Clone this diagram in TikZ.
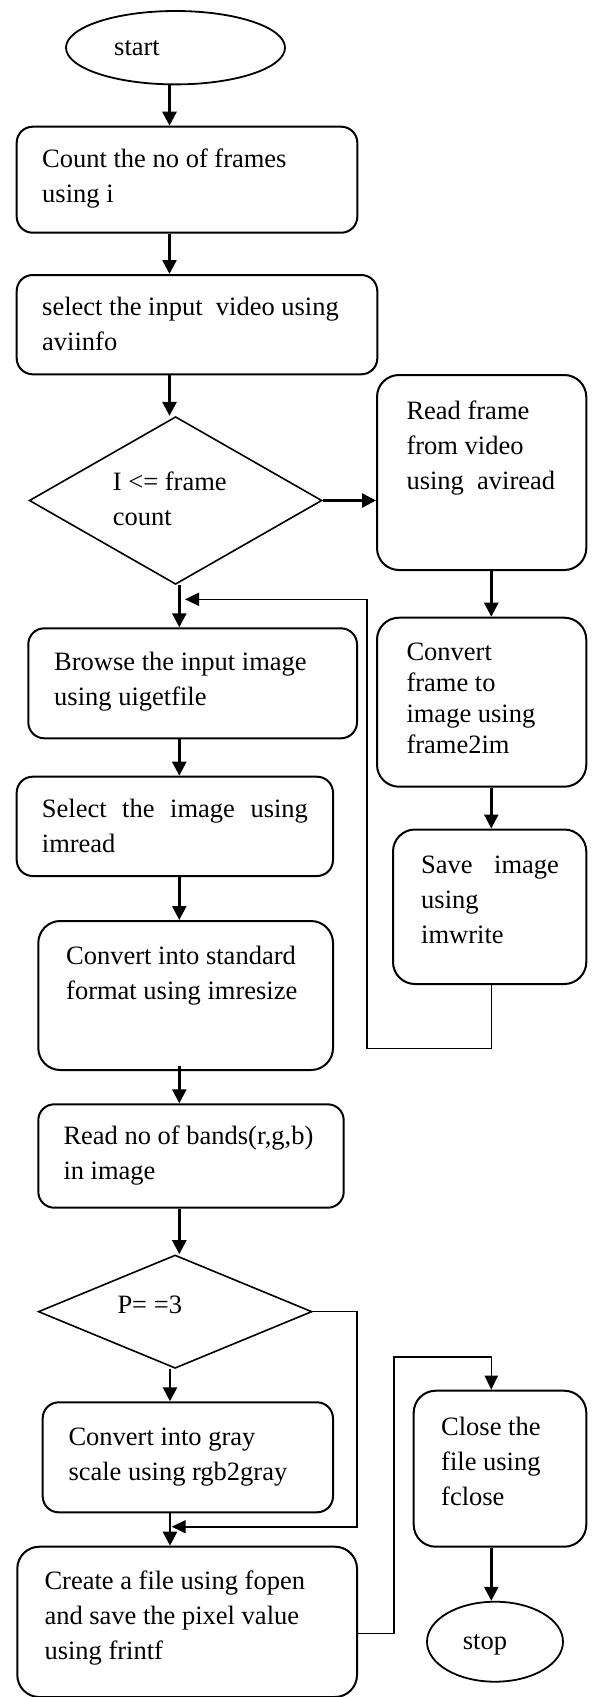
\documentclass[tikz,border=0pt]{standalone}
\usepackage{fontspec}
\setmainfont{Liberation Serif}
\usetikzlibrary{shapes.geometric,arrows.meta,calc}
\newcommand\mystrut{\rule{0pt}{23pt}}
\begin{document}
\begin{tikzpicture}[x=1pt,y=-1pt,
  box/.style={draw, line width=2pt, rounded corners=16pt, inner sep=0pt},
  rbox/.style={box, rounded corners=22pt},
  dia/.style={draw, diamond, line width=1.6pt, inner sep=0pt},
  ell/.style={draw, ellipse, line width=1.8pt, inner sep=0pt},
  txt/.style={anchor=north west, inner sep=0pt, align=left, font=\fontsize{26.5}{35}\selectfont},
  arr/.style={line width=2.6pt, -{Triangle[length=14pt,width=14pt]}},
  larr/.style={line width=1.6pt, -{Triangle[length=14pt,width=13pt]}}
]
\useasboundingbox (0,0) rectangle (593,1697);

% shapes
\node[ell, minimum width=219pt, minimum height=73.4pt] (start) at (175.5,47.7) {};
\node[box, minimum width=340.6pt, minimum height=106pt] (box1) at (187,179.7) {};
\node[box, minimum width=360.6pt, minimum height=99.3pt] (box2) at (197,324.65) {};
\node[dia, minimum width=292.7pt, minimum height=167.7pt] (dia1) at (175.6,500.5) {};
\node[rbox, minimum width=209.3pt, minimum height=195pt] (read) at (481.65,472.5) {};
\node[box, minimum width=328.7pt, minimum height=110pt] (browse) at (192.65,683.3) {};
\node[box, minimum width=316.3pt, minimum height=99.3pt] (select) at (174.85,826.35) {};
\node[rbox, minimum width=294.7pt, minimum height=149pt] (convstd) at (185.65,995.5) {};
\node[box, minimum width=305.4pt, minimum height=103.4pt] (bands) at (191,1156) {};
\node[dia, minimum width=273.7pt, minimum height=113.3pt] (diaP) at (175.15,1311.65) {};
\node[box, minimum width=290.3pt, minimum height=110pt] (gray) at (187.85,1457.3) {};
\node[rbox, minimum width=339.7pt, minimum height=150.3pt] (create) at (187.15,1621.85) {};
\node[rbox, minimum width=209.3pt, minimum height=169pt] (cframe) at (481.65,702.2) {};
\node[rbox, minimum width=193.3pt, minimum height=154.5pt] (save) at (489.65,906.75) {};
\node[rbox, minimum width=172.6pt, minimum height=156pt] (close) at (500,1468.7) {};
\node[ell, minimum width=136pt, minimum height=80pt] (stop) at (495,1641.7) {};

% texts
\node[txt] (tstart) at (114,32.5) {\mystrut start};
\node[txt] (tbox1) at (42,144.3) {\mystrut Count the no of frames\\using i};
\node[txt] (tbox2) at (42,292) {\mystrut select the input~ video using\\aviinfo};
\node[txt] (tdia1) at (112.7,467.7) {\mystrut I <= frame\\count};
\node[txt] (tread) at (406.3,396.7) {\mystrut Read frame\\from video\\using~ aviread};
\node[txt] (tbrowse) at (54,647.7) {\mystrut Browse the input image\\using uigetfile};
\node[txt] (tselect) at (41.7,794.3) {\mystrut\makebox[266pt][s]{Select the image using}\\imread};
\node[txt] (tconvstd) at (66,941) {\mystrut Convert into standard\\format using imresize};
\node[txt] (tbands) at (63.3,1121) {\mystrut Read no of bands(r,g,b)\\in image};
\node[txt] (tdiaP) at (117.3,1290) {\mystrut P= =3};
\node[txt] (tgray) at (68.3,1422.7) {\mystrut Convert into gray\\scale using rgb2gray};
\node[txt] (tcreate) at (44.3,1566.7) {\mystrut Create a file using fopen\\and save the pixel value\\using frintf};
\node[txt, font=\fontsize{26.5}{31}\selectfont] (tcframe) at (406.3,637.7) {\mystrut Convert\\frame to\\image using\\frame2im};
\node[txt] (tsave) at (421,850) {\mystrut\makebox[137.7pt][s]{Save image}\\using\\imwrite};
\node[txt] (tclose) at (441,1412) {\mystrut Close the\\file using\\fclose};
\node[txt] (tstop) at (462.7,1626) {\mystrut stop};

% columns
\coordinate (colA) at (169.5,0);
\coordinate (colB) at (179.3,0);
\coordinate (colP) at (170,0);
\coordinate (colR) at (491.3,0);

% connectors
\draw[arr] (start.south -| colA) -- (box1.north -| colA);
\draw[arr] (box1.south -| colA) -- (box2.north -| colA);
\draw[arr] (box2.south -| colA) -- (dia1.north -| colA);
\draw[arr] (dia1.east) -- (read.west |- dia1.east);
\draw[arr] (dia1.south -| colB) -- (browse.north -| colB);
\draw[arr] (browse.south -| colB) -- (select.north -| colB);
\draw[arr] (select.south -| colB) -- (convstd.north -| colB);
\draw[arr] ($(convstd.south -| colB)+(0,-5)$) -- (bands.north -| colB);
\draw[arr] (bands.south -| colB) -- (diaP.north -| colB);
\draw[arr] (diaP.south -| colP) -- (gray.north -| colP);
\draw[arr] (gray.south -| colP) -- (create.north -| colP);
\draw[arr] (read.south -| colR) -- (cframe.north -| colR);
\draw[arr] (cframe.south -| colR) -- (save.north -| colR);
\draw[arr] (close.south -| colR) -- (stop.north -| colR);

% loops
\coordinate (lpA) at (367,1048.3);
\coordinate (lpT) at (185,599.3);
\draw[larr] (save.south -| colR) |- (lpA) |- (lpT);
\coordinate (pR) at (357,1526.7);
\coordinate (pT) at (171.7,1526.7);
\draw[larr] (diaP.east) -| (pR) -- (pT);
\coordinate (cY) at (393.7,1633.3);
\coordinate (cZ) at (491.3,1356.7);
\draw[larr] (create.east |- cY) -- (cY) |- (cZ) -- (close.north -| cZ);
\end{tikzpicture}
\end{document}
